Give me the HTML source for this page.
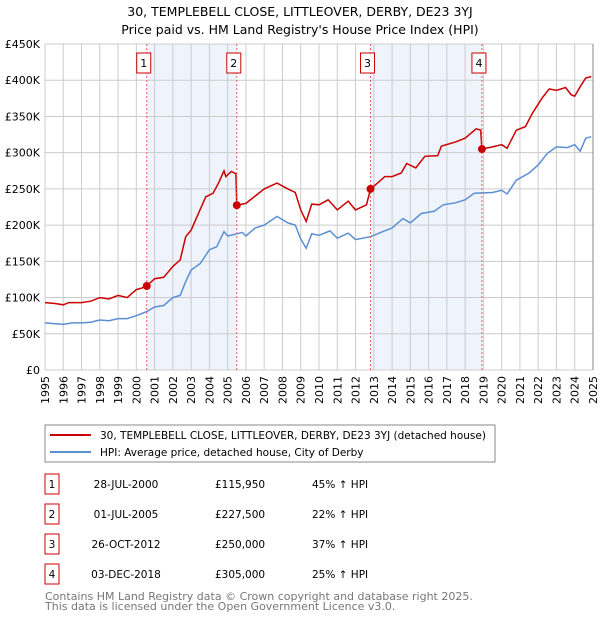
<!DOCTYPE html>
<html><head><meta charset="utf-8"><style>
body{margin:0;background:#fff;font-family:"Liberation Sans","DejaVu Sans",sans-serif;}
svg text{font-family:"DejaVu Sans","Liberation Sans",sans-serif;}
</style></head><body>
<svg id="c" width="600" height="620" xmlns="http://www.w3.org/2000/svg">
<text x="300" y="16" text-anchor="middle" font-size="12.5">30, TEMPLEBELL CLOSE, LITTLEOVER, DERBY, DE23 3YJ</text>
<text x="300" y="34" text-anchor="middle" font-size="12.5">Price paid vs. HM Land Registry's House Price Index (HPI)</text>
<g id="plot"></g>
<rect x="45" y="425" width="450" height="37" fill="none" stroke="#888"/>
<line x1="50" y1="435" x2="91" y2="435" stroke="#cc0000" stroke-width="2"/>
<text x="100" y="439" font-size="10.5">30, TEMPLEBELL CLOSE, LITTLEOVER, DERBY, DE23 3YJ (detached house)</text>
<line x1="50" y1="452" x2="91" y2="452" stroke="#5b8fd4" stroke-width="2"/>
<text x="100" y="456" font-size="10.5">HPI: Average price, detached house, City of Derby</text>
<g id="tbl" font-size="10.5"></g>
<text x="45" y="600" font-size="11" fill="#777">Contains HM Land Registry data © Crown copyright and database right 2025.</text>
<text x="45" y="610" font-size="11" fill="#777">This data is licensed under the Open Government Licence v3.0.</text>
</svg>
<script>
const yTicks=[0,50000,100000,150000,200000,250000,300000,350000,400000,450000];
const yTickLabels=["£0","£50K","£100K","£150K","£200K","£250K","£300K","£350K","£400K","£450K"];
const years=[1995,1996,1997,1998,1999,2000,2001,2002,2003,2004,2005,2006,2007,2008,2009,2010,2011,2012,2013,2014,2015,2016,2017,2018,2019,2020,2021,2022,2023,2024,2025];
const saleDates=[2000.57,2005.5,2012.82,2018.92];
const salePrices=[115950,227500,250000,305000];
const saleLabels=["1","2","3","4"];
const saleDateText=["28-JUL-2000","01-JUL-2005","26-OCT-2012","03-DEC-2018"];
const salePriceText=["£115,950","£227,500","£250,000","£305,000"];
const saleHpiText=["45% ↑ HPI","22% ↑ HPI","37% ↑ HPI","25% ↑ HPI"];
const redT=[1995,1995.5,1996,1996.3,1997,1997.5,1998,1998.5,1999,1999.5,2000,2000.3,2000.57,2001,2001.5,2002,2002.4,2002.7,2003,2003.8,2004.2,2004.5,2004.8,2004.9,2005.2,2005.45,2005.5,2006,2006.5,2007,2007.7,2008.3,2008.7,2009,2009.3,2009.6,2010,2010.5,2011,2011.6,2012,2012.6,2012.82,2013.2,2013.6,2014,2014.5,2014.8,2015.3,2015.8,2016.5,2016.7,2017.5,2018,2018.6,2018.85,2018.92,2019.5,2020,2020.3,2020.8,2021.3,2021.7,2022.2,2022.6,2023,2023.5,2023.8,2024,2024.3,2024.6,2024.9];
const redV=[93,92,90,93,93,95,100,98,103,100,111,113,116,126,128,143,152,184,193,239,244,258,275,267,274,271,227.5,230,240,250,258,250,245,221,205,229,228,235,221,233,221,228,250,258,267,267,272,285,279,295,296,309,315,320,333,331,305,308,311,306,331,336,355,375,388,386,390,380,378,391,403,405];
const blueT=[1995,1995.5,1996,1996.5,1997,1997.5,1998,1998.5,1999,1999.5,2000,2000.57,2001,2001.5,2002,2002.4,2002.7,2003,2003.5,2004,2004.4,2004.8,2005,2005.5,2005.8,2006,2006.5,2007,2007.3,2007.7,2008.3,2008.7,2009,2009.3,2009.6,2010,2010.6,2011,2011.6,2012,2012.82,2013.5,2014,2014.6,2015,2015.6,2016.3,2016.8,2017.5,2018,2018.5,2019.5,2020,2020.3,2020.8,2021.5,2022,2022.5,2023,2023.6,2024,2024.3,2024.6,2024.9];
const blueV=[65,64,63,65,65,66,69,68,71,71,75,80.6,87,89,100,103,122,138,147,166,170,191,185,188,190,185,196,200,205,212,203,200,181,168,188,186,192,182,189,180,184,191,196,209,203,216,219,228,231,235,244,245,248,243,262,272,283,299,308,307,311,302,320,322];
const L=45,R=593,T=44,B=370;
const x=y=>L+(y-1995)*(R-L)/30;
const yv=v=>B-v*(B-T)/450000;
const NS="http://www.w3.org/2000/svg";
const plot=document.getElementById('plot');
function mk(tag,attrs,parent){const e=document.createElementNS(NS,tag);for(const k in attrs)e.setAttribute(k,attrs[k]);(parent||plot).appendChild(e);return e;}
for(let i=0;i<4;i+=2){const r=mk('rect',{x:x(saleDates[i]),y:T,width:x(saleDates[i+1])-x(saleDates[i]),height:B-T,fill:'#eef3fc'});

}
years.forEach(yr=>{const l=mk('line',{x1:x(yr),x2:x(yr),y1:T,y2:B,stroke:'#ccc'});


const t=mk('text',{x:0,y:0,'font-size':11,'text-anchor':'end',transform:`translate(${x(yr)+4},${B+6}) rotate(-90)`});
t.textContent=yr;

});
yTicks.forEach((v,i)=>{const l=mk('line',{x1:L,x2:R,y1:yv(v),y2:yv(v),stroke:'#ccc'});


const t=mk('text',{x:L-5,y:yv(v)+4,'font-size':11,'text-anchor':'end'});
t.textContent=yTickLabels[i];

});
function path(ts,vs,col,name){const d=ts.map((t,i)=>(i?'L':'M')+x(t).toFixed(1)+','+yv(vs[i]*1000).toFixed(1)).join('');
const p=mk('path',{d,fill:'none',stroke:col,'stroke-width':1.5});

}
path(blueT,blueV,'#5b8fd4','hpi-line');
path(redT,redV,'#cc0000','property-price-line');
saleDates.forEach((d,i)=>{const l=mk('line',{x1:x(d),x2:x(d),y1:T,y2:B,stroke:'#e06060','stroke-dasharray':'2,2'});


const b=mk('rect',{x:x(d)-10,y:53,width:14,height:20,fill:'#fff',stroke:'#cc0000'});


const t=mk('text',{x:x(d)-3,y:67,'font-size':11,'text-anchor':'middle'});
t.textContent=saleLabels[i];


const c=mk('circle',{cx:x(d),cy:yv(salePrices[i]),r:4,fill:'#cc0000'});

});
mk('line',{x1:R,x2:R,y1:T,y2:B,stroke:'#888'});
const tbl=document.getElementById('tbl');
saleLabels.forEach((s,i)=>{const y=487+i*30;
const b=mk('rect',{x:45,y:y-13,width:14,height:20,fill:'none',stroke:'#cc0000'},tbl);


const cols=[[52,s,'middle'],[126,saleDateText[i],'middle'],[215,salePriceText[i],'start'],[312,saleHpiText[i],'start']];
cols.forEach(c=>{const t=mk('text',{x:c[0],y:y+1,'text-anchor':c[2]},tbl);t.textContent=c[1];

});});
</script>
</body></html>
